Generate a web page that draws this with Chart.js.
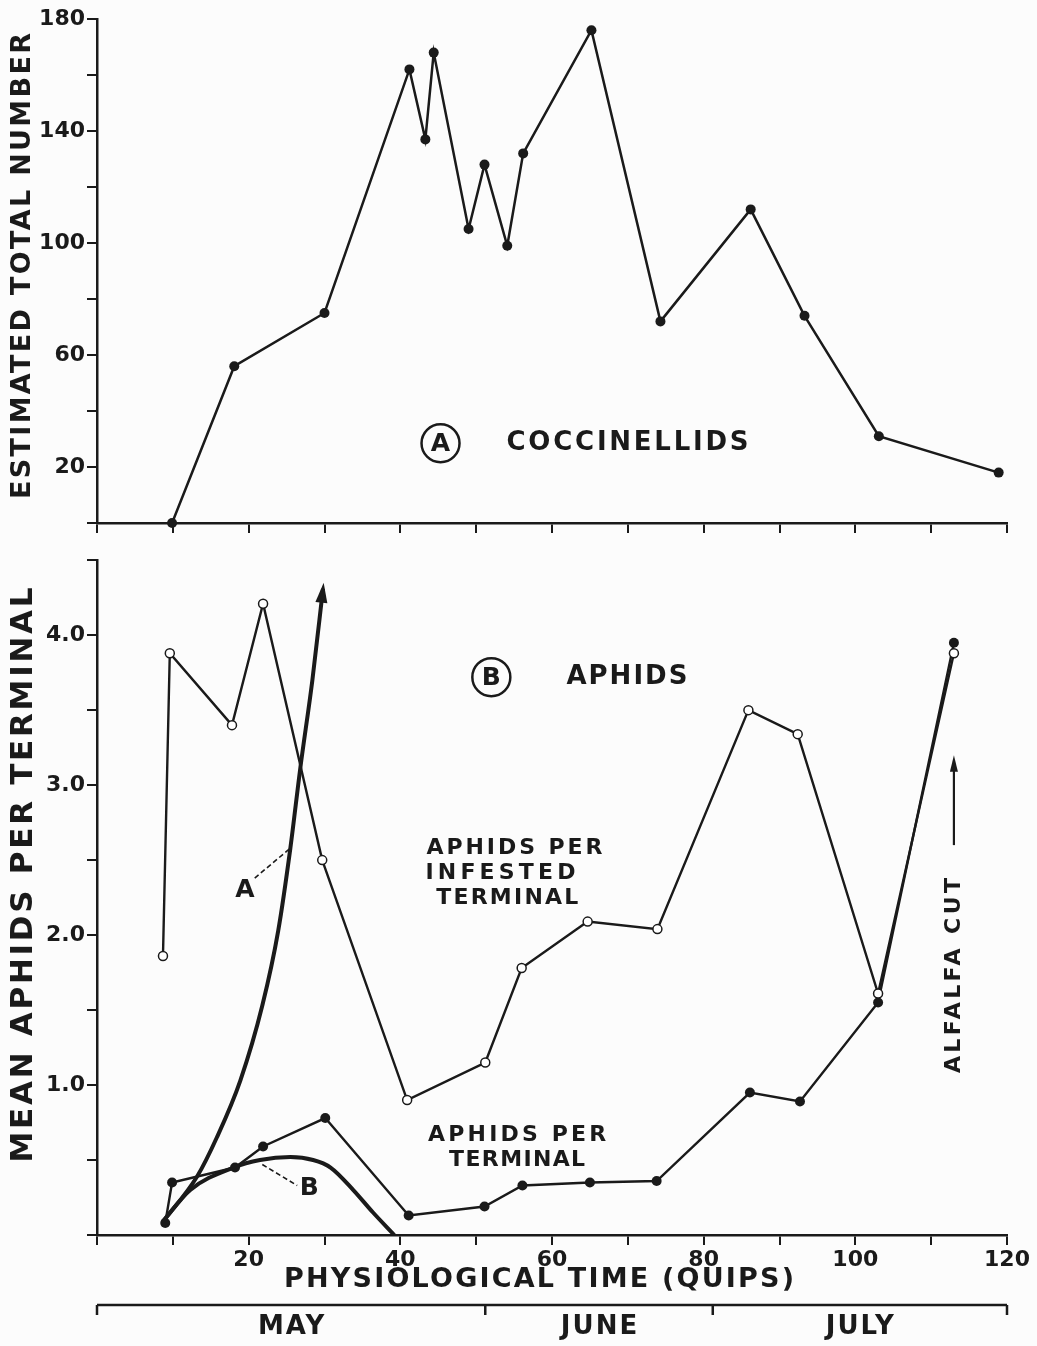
<!DOCTYPE html>
<html>
<head>
<meta charset="utf-8">
<script src="https://cdn.jsdelivr.net/npm/chart.js@4.4.1/dist/chart.umd.min.js"></script>
<style>
  body { margin: 0; background: #fcfcfc; }
  #wrap { position: relative; width: 1037px; height: 1346px; }
  canvas { position: absolute; left: 0; }
</style>
</head>
<body>
<div id="wrap">
  <canvas id="topChart" width="1037" height="545" style="top:0"></canvas>
  <canvas id="bottomChart" width="1037" height="801" style="top:545px"></canvas>
</div>
<script>
// A: coccinellids, estimated total number
const coccTime = [9.9, 18.1, 30.0, 41.2, 43.3, 44.4, 49.0, 51.1, 54.1, 56.2, 65.2, 74.3, 86.2, 93.3, 103.1, 118.9];
const coccCount = [0, 56, 75, 162, 137, 168, 105, 128, 99, 132, 176, 72, 112, 74, 31, 18];

// B: aphids per infested terminal (open circles)
const infTime = [8.7, 9.6, 17.8, 21.9, 29.7, 40.9, 51.2, 56.0, 64.7, 73.9, 85.9, 92.4, 103.0, 113.0];
const infMean = [1.86, 3.88, 3.40, 4.21, 2.50, 0.90, 1.15, 1.78, 2.09, 2.04, 3.50, 3.34, 1.61, 3.88];

// B: aphids per terminal (filled circles)
const termTime = [9.0, 9.9, 18.2, 21.9, 30.1, 41.1, 51.1, 56.1, 65.0, 73.8, 86.1, 92.7, 103.0, 113.0];
const termMean = [0.08, 0.35, 0.45, 0.59, 0.78, 0.13, 0.19, 0.33, 0.35, 0.36, 0.95, 0.89, 1.55, 3.95];

// thick curves A and B
const curveATime = [8.7, 13.2, 15.8, 18.9, 21.8, 23.9, 25.5, 26.8, 28.4, 29.8];
const curveAMean = [0.09, 0.39, 0.65, 1.03, 1.53, 2.03, 2.58, 3.11, 3.70, 4.31];
const curveBTime = [8.7, 12.3, 18.0, 21.5, 25.5, 28.5, 30.8, 33.8, 36.4, 39.2];
const curveBMean = [0.09, 0.30, 0.45, 0.50, 0.52, 0.50, 0.45, 0.30, 0.15, 0.0];

const coccTicks = [20, 60, 100, 140, 180];
const aphidTicks = [1, 2, 3, 4];
const timeTicks = [20, 40, 60, 80, 100, 120];

const monthNames = ['MAY', 'JUNE', 'JULY'];
const monthBounds = [0, 51.2, 81.2, 120];

const ink = '#1a1a1a';
const font = '"DejaVu Sans", "Liberation Sans", sans-serif';

function pts(xs, ys) {
    return xs.map((x, i) => ({ x: x, y: ys[i] }));
}

// draws text with a letter spacing; if len is given the spacing stretches it to that length
function spaced(ctx, str, x, y, size, len, rot, align, gap) {
    ctx.save();
    ctx.translate(x, y);
    if (rot) ctx.rotate(rot);
    ctx.font = 'bold ' + size + 'px ' + font;
    ctx.fillStyle = ink;
    ctx.textBaseline = 'middle';
    ctx.textAlign = 'left';
    ctx.letterSpacing = '0px';
    const w = ctx.measureText(str).width;
    let sp = gap || 0;
    if (len) sp = (len - w) / (str.length - 1);
    ctx.letterSpacing = sp + 'px';
    const total = w + sp * (str.length - 1);
    let x0 = -total / 2;
    if (align === 'left') x0 = 0;
    ctx.fillText(str, x0, 0);
    ctx.restore();
}

function circled(ctx, letter, x, y) {
    ctx.save();
    ctx.strokeStyle = ink;
    ctx.lineWidth = 2.5;
    ctx.beginPath();
    ctx.arc(x, y, 19, 0, Math.PI * 2);
    ctx.stroke();
    ctx.restore();
    spaced(ctx, letter, x, y + 1, 25, 0);
}

function dashed(ctx, x1, y1, x2, y2) {
    ctx.save();
    ctx.strokeStyle = ink;
    ctx.lineWidth = 1.6;
    ctx.setLineDash([5, 3]);
    ctx.beginPath();
    ctx.moveTo(x1, y1);
    ctx.lineTo(x2, y2);
    ctx.stroke();
    ctx.restore();
}

function axisOpts(min, max, step, labels, fmt, size) {
    return {
        type: 'linear',
        min: min,
        max: max,
        border: { display: true, color: ink, width: 2.5 },
        grid: { display: true, drawOnChartArea: false, drawTicks: true, tickLength: 10, tickColor: ink, lineWidth: 2 },
        ticks: {
            stepSize: step,
            autoSkip: false,
            maxRotation: 0,
            color: ink,
            padding: 2,
            font: { family: font, size: 22, weight: 'bold' },
            callback: function (v) {
                return labels.some(l => Math.abs(l - v) < 1e-6) ? fmt(v) : '';
            }
        },
        afterFit: function (s) {
            if (s.isHorizontal()) s.height = size; else s.width = size;
        }
    };
}

const topAnno = {
    id: 'topAnno',
    afterDraw(chart) {
        const ctx = chart.ctx;
        const x = chart.scales.x, y = chart.scales.y;
        circled(ctx, 'A', x.getPixelForValue(45.3), y.getPixelForValue(28.5));
        spaced(ctx, 'COCCINELLIDS', x.getPixelForValue(54.0), y.getPixelForValue(28.5), 26, 242, 0, 'left');
        spaced(ctx, 'ESTIMATED TOTAL NUMBER', 23, 266, 27, 466, -Math.PI / 2);
    }
};

new Chart(document.getElementById('topChart'), {
    type: 'line',
    data: {
        datasets: [{
            label: 'Coccinellids',
            data: pts(coccTime, coccCount),
            borderColor: ink,
            borderWidth: 2.5,
            pointRadius: 5,
            pointBackgroundColor: ink,
            pointBorderColor: ink,
            pointBorderWidth: 0,
            tension: 0,
            clip: false
        }]
    },
    options: {
        responsive: false,
        animation: false,
        devicePixelRatio: 1,
        layout: { padding: { top: 19, right: 30, left: 0, bottom: 0 } },
        plugins: { legend: { display: false }, tooltip: { enabled: false } },
        scales: {
            x: axisOpts(0, 120, 10, [], v => '', 22),
            y: axisOpts(0, 180, 20, coccTicks, v => String(v), 97)
        }
    },
    plugins: [topAnno]
});

const bottomAnno = {
    id: 'bottomAnno',
    afterDraw(chart) {
        const ctx = chart.ctx;
        const x = chart.scales.x, y = chart.scales.y;
        const px = v => x.getPixelForValue(v);
        const py = v => y.getPixelForValue(v);
        const area = chart.chartArea;

        // arrow head at the end of curve A
        const a = chart.getDatasetMeta(2).data;
        const p1 = a[a.length - 2], p2 = a[a.length - 1];
        const ang = Math.atan2(p2.y - p1.y, p2.x - p1.x);
        ctx.save();
        ctx.fillStyle = ink;
        ctx.translate(p2.x, p2.y);
        ctx.rotate(ang);
        ctx.beginPath();
        ctx.moveTo(6, 0);
        ctx.lineTo(-14, -6);
        ctx.lineTo(-14, 6);
        ctx.closePath();
        ctx.fill();
        ctx.restore();

        circled(ctx, 'B', px(52.0), py(3.72));
        spaced(ctx, 'APHIDS', px(61.9), py(3.72), 26, 121, 0, 'left');

        spaced(ctx, 'APHIDS PER', px(55.05), py(2.577), 22, 176);
        spaced(ctx, 'INFESTED', px(53.2), py(2.41), 22, 150);
        spaced(ctx, 'TERMINAL', px(54.1), py(2.244), 22, 142);

        spaced(ctx, 'APHIDS PER', px(55.4), py(0.666), 22, 178);
        spaced(ctx, 'TERMINAL', px(55.4), py(0.50), 22, 136);

        spaced(ctx, 'A', px(19.5), py(2.30), 25, 0);
        dashed(ctx, px(20.8), py(2.38), px(25.5), py(2.58));
        spaced(ctx, 'B', px(28.0), py(0.31), 25, 0);
        dashed(ctx, px(21.8), py(0.47), px(26.4), py(0.33));

        // alfalfa cut marker
        spaced(ctx, 'ALFALFA CUT', px(113.0), py(1.73), 22, 195, -Math.PI / 2);
        ctx.save();
        ctx.strokeStyle = ink;
        ctx.fillStyle = ink;
        ctx.lineWidth = 2.2;
        ctx.beginPath();
        ctx.moveTo(px(113.0), py(2.60));
        ctx.lineTo(px(113.0), py(3.12));
        ctx.stroke();
        ctx.beginPath();
        ctx.moveTo(px(113.0), py(3.20));
        ctx.lineTo(px(113.0) - 4, py(3.09));
        ctx.lineTo(px(113.0) + 4, py(3.09));
        ctx.closePath();
        ctx.fill();
        ctx.restore();

        // axis titles
        spaced(ctx, 'MEAN APHIDS PER TERMINAL', 24, 875 - 545, 31, 575, -Math.PI / 2);
        spaced(ctx, 'PHYSIOLOGICAL TIME (QUIPS)', 539, area.bottom + 45, 27, 510);

        // month bar
        const my = area.bottom + 70;
        ctx.save();
        ctx.strokeStyle = ink;
        ctx.lineWidth = 2.5;
        ctx.beginPath();
        ctx.moveTo(px(monthBounds[0]), my);
        ctx.lineTo(px(monthBounds[monthBounds.length - 1]), my);
        monthBounds.forEach(b => {
            ctx.moveTo(px(b), my);
            ctx.lineTo(px(b), my + 10);
        });
        ctx.stroke();
        ctx.restore();
        monthNames.forEach((m, i) => {
            const c = (monthBounds[i] + monthBounds[i + 1]) / 2;
            spaced(ctx, m, px(c), area.bottom + 92, 26, 0, 0, 'center', 2);
        });
    }
};

new Chart(document.getElementById('bottomChart'), {
    type: 'line',
    data: {
        datasets: [
            {
                label: 'Aphids per infested terminal',
                data: pts(infTime, infMean),
                borderColor: ink,
                borderWidth: 2.4,
                pointRadius: 4.5,
                pointBackgroundColor: '#ffffff',
                pointBorderColor: ink,
                pointBorderWidth: 1.5,
                tension: 0
            },
            {
                label: 'Aphids per terminal',
                data: pts(termTime, termMean),
                borderColor: ink,
                borderWidth: 2.4,
                pointRadius: 5,
                pointBackgroundColor: ink,
                pointBorderColor: ink,
                pointBorderWidth: 0,
                tension: 0
            },
            {
                label: 'A',
                data: pts(curveATime, curveAMean),
                borderColor: ink,
                borderWidth: 4,
                pointRadius: 0,
                cubicInterpolationMode: 'monotone',
                clip: false
            },
            {
                label: 'B',
                data: pts(curveBTime, curveBMean),
                borderColor: ink,
                borderWidth: 4,
                pointRadius: 0,
                cubicInterpolationMode: 'monotone'
            }
        ]
    },
    options: {
        responsive: false,
        animation: false,
        devicePixelRatio: 1,
        layout: { padding: { top: 15, right: 30, left: 0, bottom: 0 } },
        plugins: { legend: { display: false }, tooltip: { enabled: false } },
        scales: {
            x: axisOpts(0, 120, 10, timeTicks, v => String(v), 111),
            y: axisOpts(0, 4.5, 0.5, aphidTicks, v => v.toFixed(1), 97)
        }
    },
    plugins: [bottomAnno]
});
</script>
</body>
</html>
